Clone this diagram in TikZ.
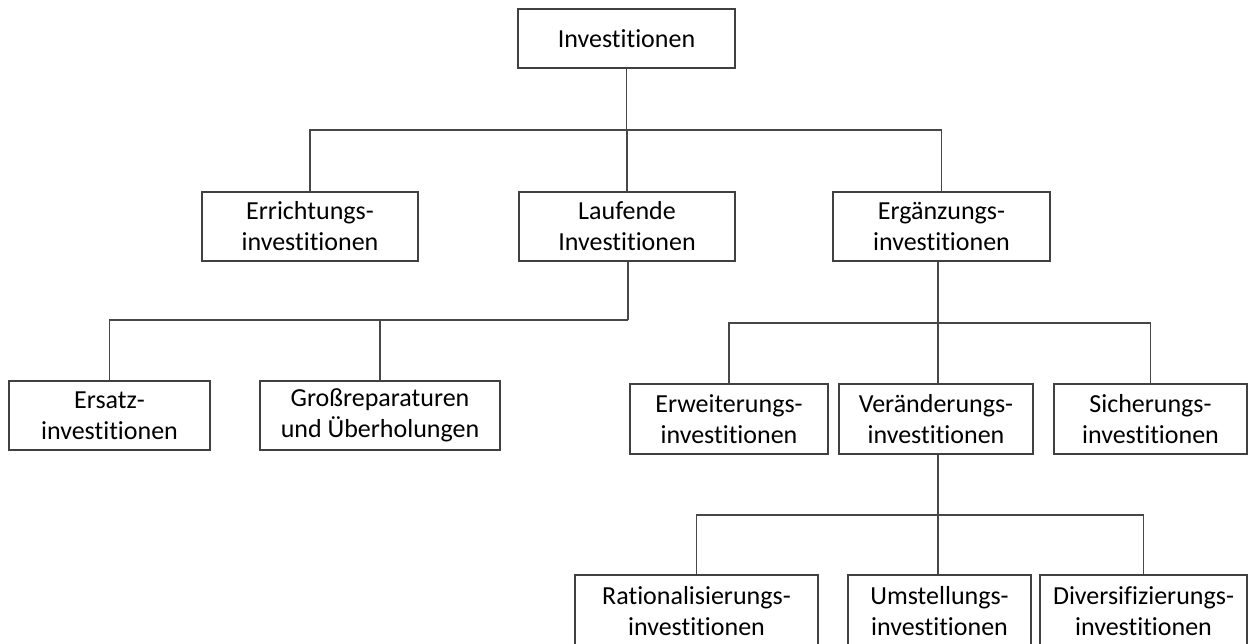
\documentclass[tikz,border=0pt]{standalone}
\usepackage{fontspec}
\setmainfont[RawFeature={-liga;-clig;-dlig}]{Carlito}
\begin{document}
\begin{tikzpicture}[x=1pt,y=-1pt,
  box/.style={draw=black!75, line width=1.8pt, fill=white, inner sep=0pt,
    align=center, font=\fontsize{26}{31}\selectfont},
  link/.style={draw=black!72, line width=1.6pt}]
\clip (0,0) rectangle (1254,644);
\fill[white] (0,0) rectangle (1254,644);
% box from (left,top) to (right,bottom)
\newcommand\boxat[6]{%
  \node[box, minimum width=#4-#2, minimum height=#5-#3]
    (#1) at ({(#2+#4)/2},{(#3+#5)/2}) {#6};}
\boxat{top}{518}{9}{735}{68}{Investitionen}
\boxat{err}{202}{192}{418}{261}{Errichtungs-\\investitionen}
\boxat{lau}{519}{192}{735}{261}{Laufende\\Investitionen}
\boxat{erg}{833}{192}{1050}{261}{Ergänzungs-\\investitionen}
\boxat{ers}{9}{381}{210}{450}{Ersatz-\\investitionen}
\boxat{gro}{260}{381}{500}{450}{Großreparaturen\\und Überholungen}
\boxat{erw}{630}{384}{828}{454}{Erweiterungs-\\investitionen}
\boxat{ver}{839}{384}{1033}{454}{Veränderungs-\\investitionen}
\boxat{sic}{1054}{384}{1247}{454}{Sicherungs-\\investitionen}
\boxat{rat}{575}{575}{818}{647}{Rationalisierungs-\\investitionen}
\boxat{ums}{848}{575}{1031}{647}{Umstellungs-\\investitionen}
\boxat{div}{1040}{575}{1247}{647}{Diversifizierungs-\\investitionen}
% bus levels (trunk x, bus y)
\coordinate (b1) at (627,130);
\coordinate (b2) at (628,320);
\coordinate (b3) at (938,323);
\coordinate (b4) at (938,515);
% connectors
\draw[link] (top.south) -- (top.south |- b1);
\foreach \n in {err,lau,erg} \draw[link] (top.south |- b1) -| (\n.north);
\draw[link] (err.north |- b1) -- (erg.north |- b1);
\draw[link] (b2 |- lau.south) -- (b2);
\foreach \n in {ers,gro} \draw[link] (b2) -| (\n.north);
\draw[link] (b3 |- erg.south) -- (b3);
\draw[link] (b3) -- (b3 |- ver.north);
\foreach \n in {erw,sic} \draw[link] (b3) -| (\n.north);
\draw[link] (b4 |- ver.south) -- (b4);
\draw[link] (b4) -- (b4 |- ums.north);
\foreach \n in {rat,div} \draw[link] (b4) -| (\n.north);
\end{tikzpicture}
\end{document}
